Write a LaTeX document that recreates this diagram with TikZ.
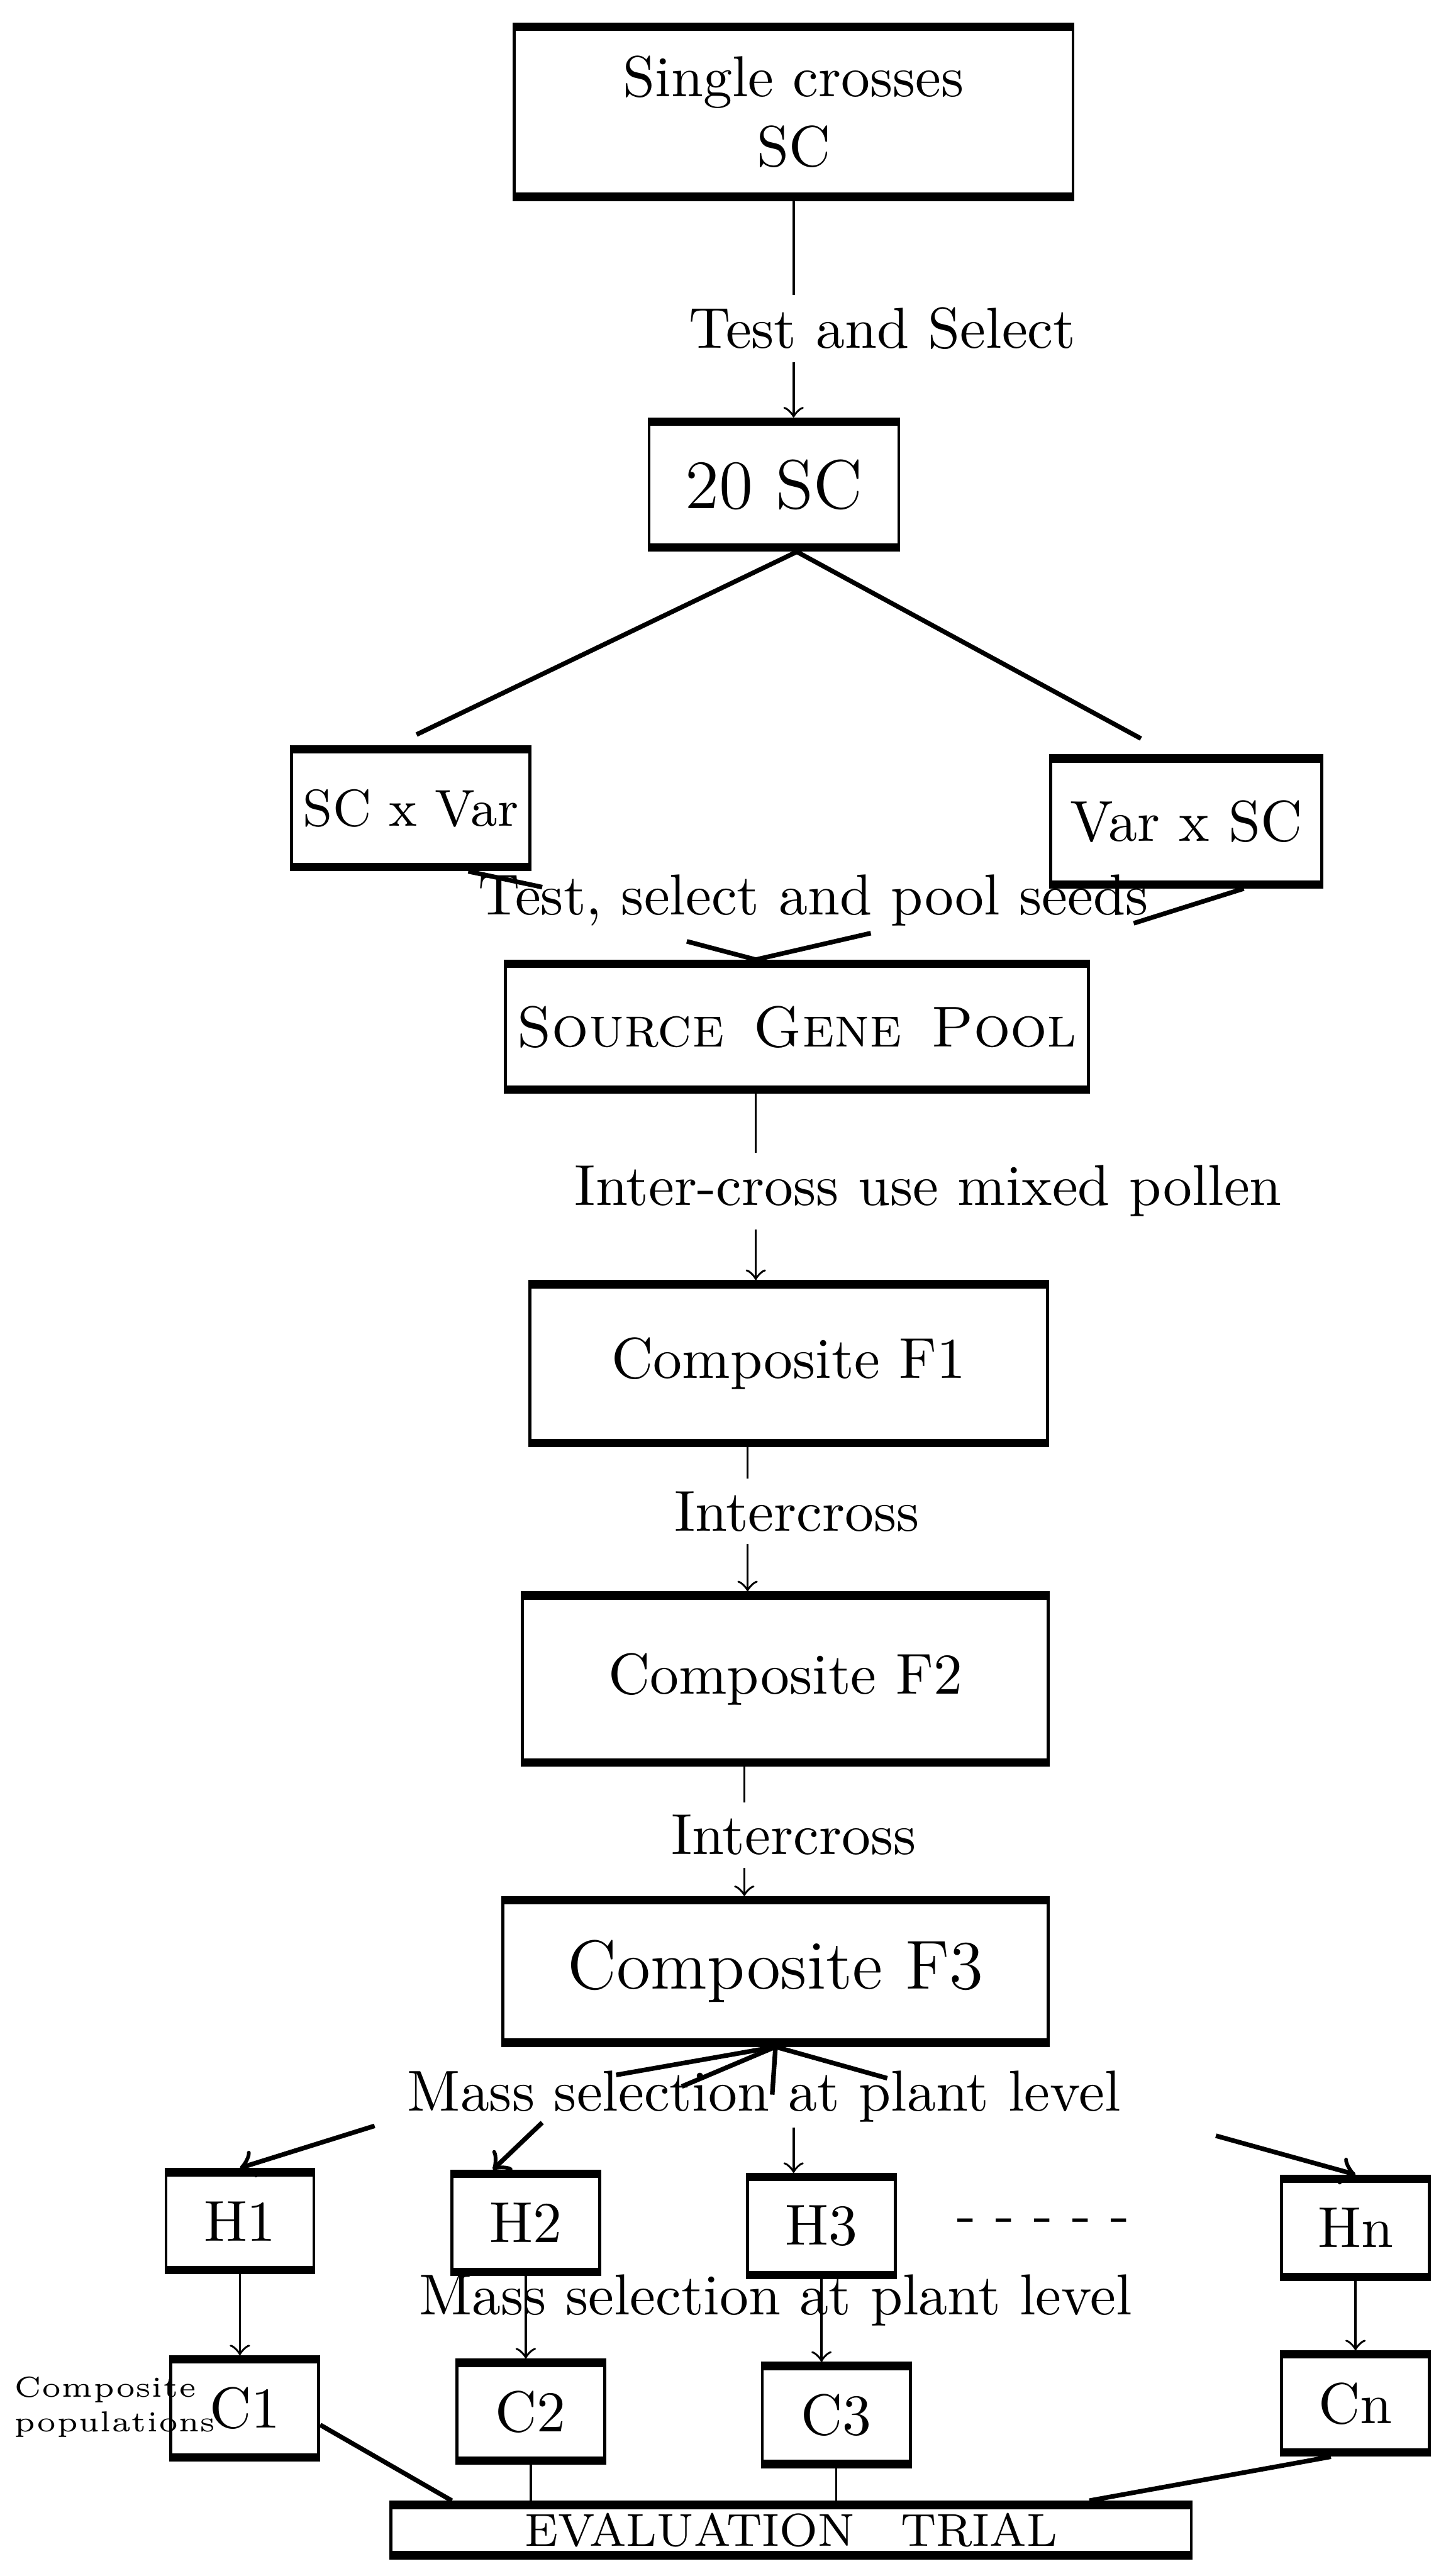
\documentclass[tikz,border=0pt]{standalone}
\usetikzlibrary{arrows, positioning}

\begin{document}
\begin{tikzpicture}

\tikzset{box/.style = {shape=rectangle, draw, line width=0.5pt, inner sep=2pt, align=center,
  path picture={\draw[line width=2.4pt] (path picture bounding box.north west) -- (path picture bounding box.north east)
    (path picture bounding box.south west) -- (path picture bounding box.south east);}}}
\tikzset{cell/.style = {box, minimum width=0.9cm, minimum height=0.63cm}}
\tikzset{lbl/.style = {inner sep=2pt}}
\tikzset{edge/.style = {->,> = to}}

\useasboundingbox (0,0) rectangle (8.8,-15.68);

% boxes
\node[box, minimum width=3.4cm, minimum height=1.07cm] (sc) at (4.83,-0.68) {Single crosses\\SC};
\node[box, minimum width=1.52cm, minimum height=0.80cm, font=\large] (sc20) at (4.71,-2.95) {20 SC};
\node[box, minimum width=1.27cm, minimum height=0.75cm, font=\small] (scvar) at (2.50,-4.92) {SC x Var};
\node[box, minimum width=1.65cm, minimum height=0.80cm] (varsc) at (7.22,-5.00) {Var x SC};
\node[box, minimum width=3.35cm, minimum height=0.80cm] (pool) at (4.85,-6.25) {\textsc{Source\enspace Gene\enspace Pool}};
\node[box, minimum width=3.15cm, minimum height=1.00cm] (f1) at (4.80,-8.30) {Composite F1};
\node[box, minimum width=3.20cm, minimum height=1.05cm] (f2) at (4.78,-10.22) {Composite F2};
\node[box, minimum width=3.32cm, minimum height=0.90cm, font=\large] (f3) at (4.72,-12.00) {Composite F3};
\node[cell] (h1) at (1.46,-13.52) {H1};
\node[cell] (h2) at (3.20,-13.53) {H2};
\node[cell] (h3) at (5.00,-13.55) {H3};
\node[cell] (hn) at (8.25,-13.56) {Hn};
\node[cell] (c1) at (1.49,-14.66) {C1};
\node[cell] (c2) at (3.23,-14.68) {C2};
\node[cell] (c3) at (5.09,-14.70) {C3};
\node[cell] (cn) at (8.25,-14.63) {Cn};
\node[box, minimum width=4.87cm, minimum height=0.34cm, font=\footnotesize, inner sep=0pt] (trial) at (4.815,-15.40) {EVALUATION\quad TRIAL};

% labels
\node[lbl] (test) at (5.37,-2.00) {Test and Select};
\node[lbl] (seeds) at (4.95,-5.48) {Test, select and pool seeds};
\node[lbl] (mixed) at (5.65,-7.25) {Inter-cross use mixed pollen};
\node[lbl] (ic1) at (4.85,-9.20) {Intercross};
\node[lbl] (ic2) at (4.83,-11.17) {Intercross};
\node[lbl] (mass1) at (4.65,-12.76) {Mass selection at plant level};
\node[lbl] (mass2) at (4.72,-14.00) {Mass selection at plant level};
\node[lbl] (dots) at (6.35,-13.55) {- - - - -};
\node[lbl, font=\tiny, align=left, anchor=west, inner sep=0pt] (comp) at (0.08,-14.65) {Composite\\populations};

% edges
\draw (sc.south) -- (sc.south |- test.north);
\draw[edge] (sc.south |- test.south) -- (sc.south |- sc20.north);
\draw[thick, shorten >=1.5mm] ([xshift=1.4mm]sc20.south) -- ([xshift=-1mm]scvar.north);
\draw[thick, shorten >=2mm] ([xshift=1.4mm]sc20.south) -- ([xshift=-1mm]varsc.north);

\coordinate (s1) at (3.30,-5.40);
\coordinate (s2) at (4.18,-5.73);
\coordinate (s3) at (6.90,-5.62);
\coordinate (s4) at (5.30,-5.68);
\draw[thick] ([xshift=3.5mm]scvar.south) -- (s1);
\draw[thick] ([xshift=3.5mm]varsc.south) -- (s3);
\draw[thick] (s2) -- ([xshift=-2.5mm]pool.north) -- (s4);

\coordinate (p0) at ([xshift=-2.5mm]pool.south);
\draw (p0) -- (p0 |- mixed.north);
\draw[edge] (p0 |- mixed.south) -- (p0 |- f1.north);
\coordinate (p1) at ([xshift=-2.5mm]f1.south);
\draw (p1) -- (p1 |- ic1.north);
\draw[edge] (p1 |- ic1.south) -- (p1 |- f2.north);
\coordinate (p2) at ([xshift=-2.5mm]f2.south);
\draw (p2) -- (p2 |- ic2.north);
\draw[edge] (p2 |- ic2.south) -- (p2 |- f3.north);

\coordinate (m1) at (3.75,-12.63);
\coordinate (m2) at (4.15,-12.70);
\coordinate (m3) at (4.70,-12.75);
\coordinate (m4) at (5.40,-12.65);
\coordinate (n1) at (2.28,-12.94);
\coordinate (n2) at (3.30,-12.92);
\coordinate (n3) at (4.83,-12.95);
\coordinate (n4) at (7.40,-13.00);
\foreach \i in {1,...,4} \draw[thick] (f3.south) -- (m\i);
\draw[edge, thick] (n1) -- (h1.north);
\draw[edge, thick] (n2) -- ([xshift=-2mm]h2.north);
\draw[edge] (n3) -- (n3 |- h3.north);
\draw[edge, thick] (n4) -- (hn.north);

\draw[edge] (h1.south) -- (h1.south |- c1.north);
\draw[edge] (h2.south) -- (h2.south |- c2.north);
\draw[edge] (h3.south) -- (h3.south |- c3.north);
\draw[edge] (hn.south) -- (hn.south |- cn.north);

\draw[thick] ([yshift=-1mm]c1.east) -- ([xshift=-2.065cm]trial.north);
\draw (c2.south) -- (c2.south |- trial.north);
\draw (c3.south) -- (c3.south |- trial.north);
\draw[thick] ([xshift=-1.5mm]cn.south) -- ([xshift=1.815cm]trial.north);
\end{tikzpicture}
\end{document}
